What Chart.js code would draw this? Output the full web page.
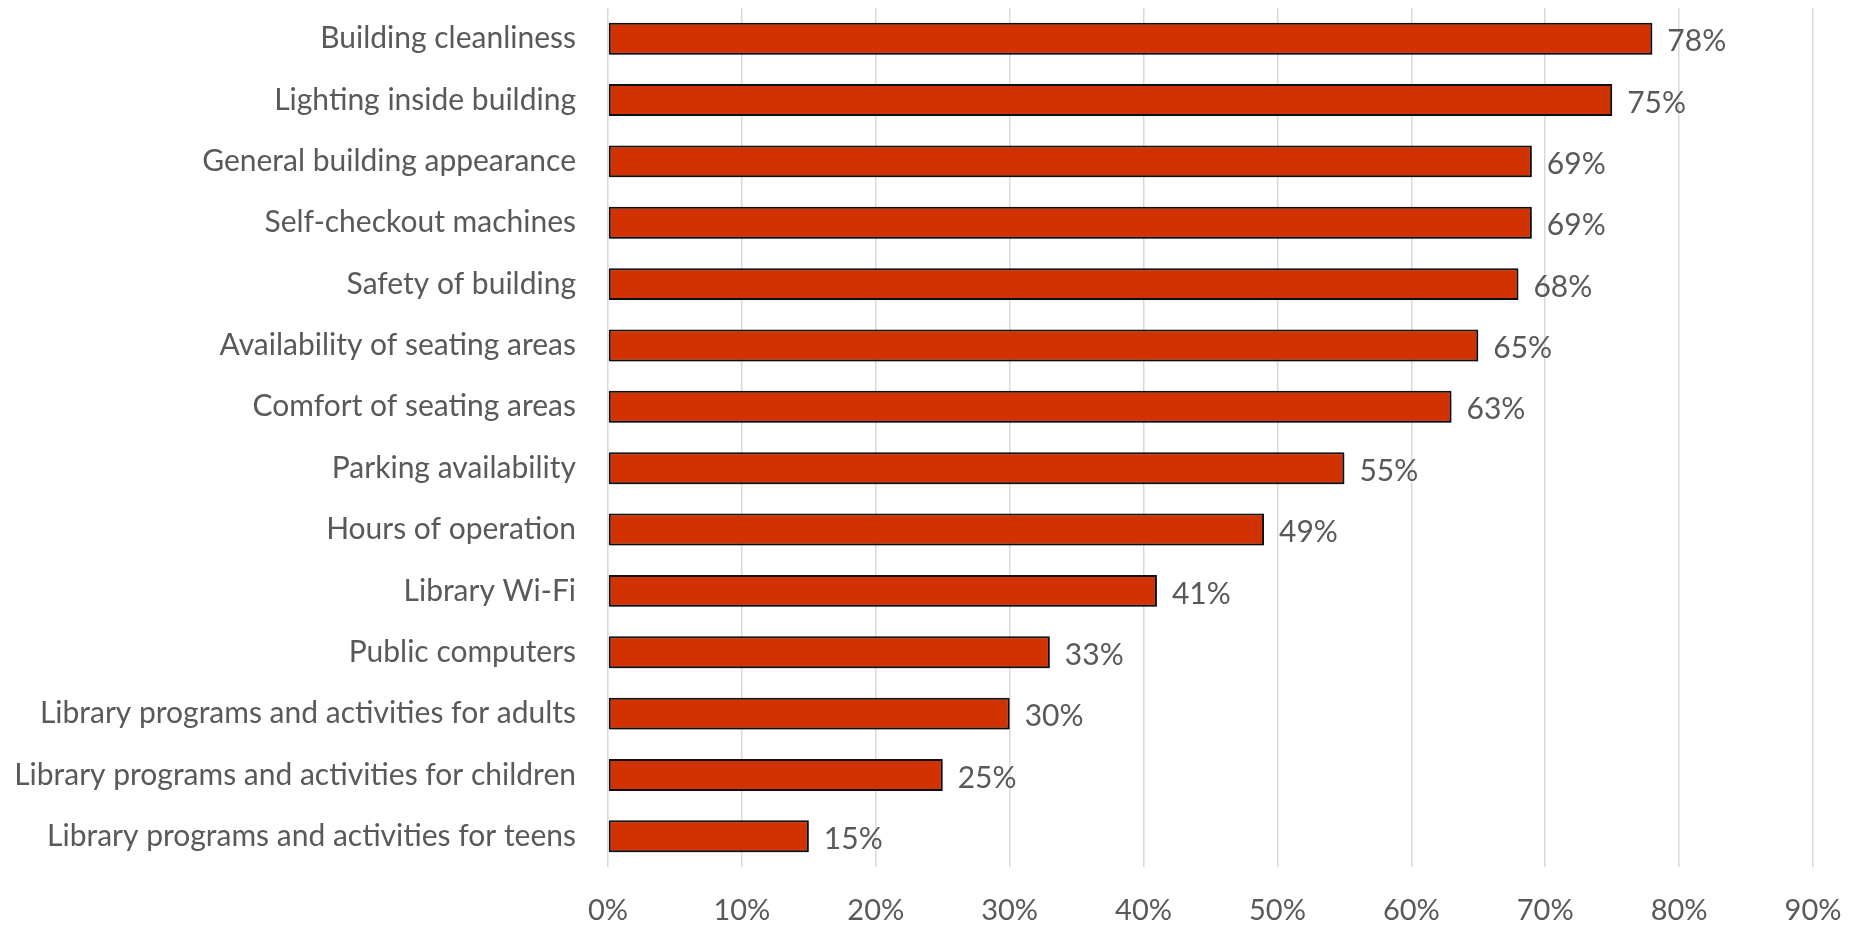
<!DOCTYPE html>
<html>
<head>
<meta charset="utf-8">
<script src="https://cdn.jsdelivr.net/npm/chart.js@4/dist/chart.umd.min.js"></script>
<style>
  html, body { margin:0; padding:0; background:#fff; }
  #wrap { width:1851px; height:926px; }
</style>
</head>
<body>
<div id="wrap"><canvas id="chart" width="1851" height="926"></canvas></div>
<script>
const categories = [
  "Building cleanliness",
  "Lighting inside building",
  "General building appearance",
  "Self-checkout machines",
  "Safety of building",
  "Availability of seating areas",
  "Comfort of seating areas",
  "Parking availability",
  "Hours of operation",
  "Library Wi-Fi",
  "Public computers",
  "Library programs and activities for adults",
  "Library programs and activities for children",
  "Library programs and activities for teens"
];
const values = [78, 75, 69, 69, 68, 65, 63, 55, 49, 41, 33, 30, 25, 15];
const xTicks = [0, 10, 20, 30, 40, 50, 60, 70, 80, 90];

const FONT = "Lato, 'Open Sans', sans-serif";
const GREY = "#595959";

// soft drop shadow under the bars
const barShadow = {
  id: "barShadow",
  beforeDatasetsDraw(chart) {
    const c = chart.ctx;
    c.save();
    c.shadowColor = "rgba(0,0,0,0.35)";
    c.shadowBlur = 3;
    c.shadowOffsetX = 2;
    c.shadowOffsetY = 2;
  },
  afterDatasetsDraw(chart) { chart.ctx.restore(); }
};

// percent labels right of each bar
const valueLabels = {
  id: "valueLabels",
  afterDatasetsDraw(chart) {
    const c = chart.ctx;
    const meta = chart.getDatasetMeta(0);
    c.save();
    c.font = "30px " + FONT;
    c.fillStyle = GREY;
    c.textAlign = "left";
    c.textBaseline = "middle";
    meta.data.forEach((bar, i) => {
      c.fillText(values[i] + "%", bar.x + 15, bar.y + 3);
    });
    c.restore();
  }
};

new Chart(document.getElementById("chart"), {
  type: "bar",
  data: {
    labels: categories,
    datasets: [{
      data: values,
      backgroundColor: "#D13200",
      borderColor: "#111",
      borderWidth: 2,
      borderSkipped: false,
      barPercentage: 0.52,
      categoryPercentage: 1
    }]
  },
  options: {
    indexAxis: "y",
    responsive: false,
    animation: false,
    layout: { padding: { top: 8, right: 38, left: 0, bottom: 0 } },
    plugins: { legend: { display: false }, tooltip: { enabled: false } },
    scales: {
      x: {
        min: 0, max: 90,
        afterBuildTicks(axis) { axis.ticks = xTicks.map(v => ({ value: v })); },
        afterFit(axis) {
          axis.height = 59;
          axis.paddingLeft = 0;
          axis.paddingRight = 0;
        },
        grid: { color: "#d9d9d9", lineWidth: 1.5, drawTicks: false },
        border: { display: false },
        ticks: {
          padding: 26,
          color: GREY,
          font: { family: FONT, size: 29 },
          callback: v => v + "%"
        }
      },
      y: {
        afterFit(axis) {
          axis.width = 608;
          axis.paddingTop = 0;
          axis.paddingBottom = 0;
        },
        grid: { display: false, drawTicks: false },
        border: { display: false },
        ticks: {
          padding: 32,
          color: GREY,
          font: { family: FONT, size: 30 }
        }
      }
    }
  },
  plugins: [barShadow, valueLabels]
});
</script>
</body>
</html>
